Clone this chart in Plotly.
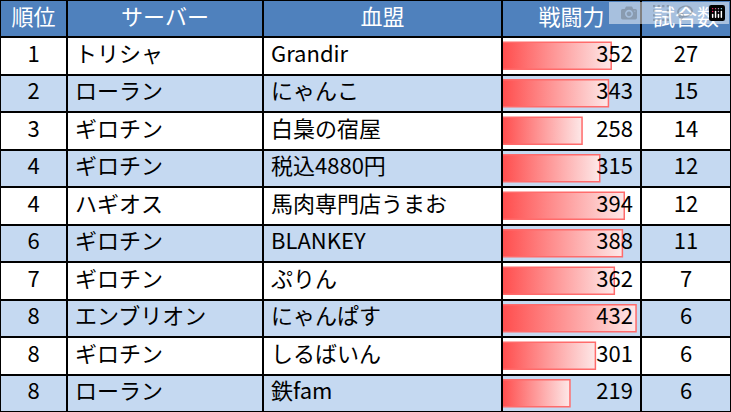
import plotly.graph_objects as go

headers = ["順位", "サーバー", "血盟", "戦闘力", "試合数"]
ranks = ["1", "2", "3", "4", "4", "6", "7", "8", "8", "8"]
servers = ["トリシャ", "ローラン", "ギロチン", "ギロチン", "ハギオス", "ギロチン", "ギロチン", "エンブリオン", "ギロチン", "ローラン"]
clans = ["Grandir", "にゃんこ", "白梟の宿屋", "税込4880円", "馬肉専門店うまお", "BLANKEY", "ぷりん", "にゃんぱす", "しるばいん", "鉄fam"]
power = [352, 343, 258, 315, 394, 388, 362, 432, 301, 219]
matches = [27, 15, 14, 12, 12, 11, 7, 6, 6, 6]

W, H = 731, 412
hdr_h = 37
row_h = (H - hdr_h) / len(ranks)
colw = [67, 196, 239, 139, 90]
bg = ["#ffffff" if i % 2 == 0 else "#c5d9f1" for i in range(len(ranks))]
font = "Noto Sans CJK JP"

fig = go.Figure()
n = len(ranks)
rows = list(range(n))
xmax = 448
fig.add_trace(go.Bar(x=[xmax] * n, y=rows, orientation="h", width=1,
                     marker=dict(color=bg, line=dict(width=0)),
                     xaxis="x", yaxis="y", hoverinfo="skip", showlegend=False))
for i, v in enumerate(power):
    fig.add_trace(go.Scatter(
        x=[0, v, v, 0, 0], y=[i - 0.36, i - 0.36, i + 0.36, i + 0.36, i - 0.36],
        fill="toself", mode="lines", line=dict(color="#ff6b6b", width=1.5),
        fillgradient=dict(type="horizontal", start=0, stop=v,
                          colorscale=[[0, "#ff4d4d"], [1, "#fde8e8"]]),
        xaxis="x", yaxis="y", hoverinfo="skip", showlegend=False))

fig.add_trace(go.Table(
    domain=dict(x=[0, 1], y=[0, 1]),
    columnwidth=colw,
    header=dict(values=headers, height=hdr_h, fill_color="#4f81bd",
                line=dict(color="black", width=2), align="center",
                font=dict(family=font, size=22, color="white")),
    cells=dict(values=[ranks, servers, clans, [str(p) for p in power], [str(m) for m in matches]],
               height=row_h,
               fill_color=[bg, bg, bg, ["rgba(0,0,0,0)"] * n, bg],
               line=dict(color="black", width=2),
               align=["center", "left", "left", "right", "center"],
               font=dict(family=font, size=22, color="black")),
))

x0 = sum(colw[:3]) / sum(colw)
x1 = sum(colw[:4]) / sum(colw)
fig.update_layout(
    width=W, height=H, margin=dict(l=0, r=0, t=0, b=0),
    paper_bgcolor="white", plot_bgcolor="rgba(0,0,0,0)", bargap=0,
    xaxis=dict(domain=[x0, x1], range=[0, xmax], visible=False, fixedrange=True),
    yaxis=dict(domain=[0, (H - hdr_h) / H], range=[n - 0.5, -0.5], visible=False, fixedrange=True),
)
fig.write_html("out.html")
with open("out.html", encoding="utf-8") as f:
    html = f.read()
html = html.replace("<body>", '<body style="margin:0;overflow:hidden">', 1)
with open("out.html", "w", encoding="utf-8") as f:
    f.write(html)
